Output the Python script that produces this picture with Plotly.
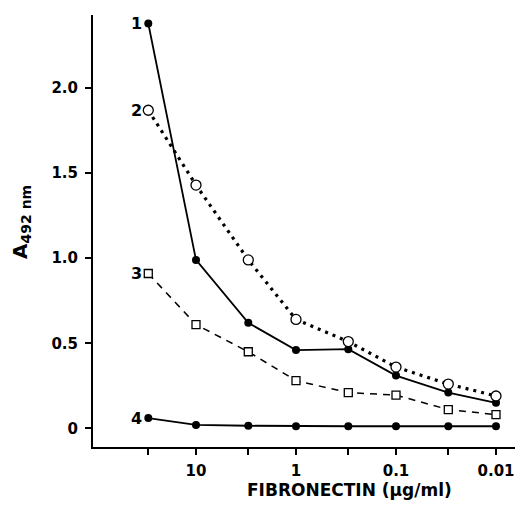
import plotly.graph_objects as go

conc = [30, 10, 3, 1, 0.3, 0.1, 0.03, 0.01]
s1 = [2.38, 0.99, 0.62, 0.46, 0.465, 0.31, 0.21, 0.15]
s2 = [1.87, 1.43, 0.99, 0.64, 0.51, 0.36, 0.26, 0.19]
s3 = [0.91, 0.61, 0.45, 0.28, 0.21, 0.195, 0.11, 0.08]
s4 = [0.06, 0.02, 0.015, 0.012, 0.012, 0.012, 0.012, 0.012]
labels = ["1", "2", "3", "4"]
xtickvals = [30, 10, 3, 1, 0.3, 0.1, 0.03, 0.01]
xticktext = ["", "10", "", "1", "", "0.1", "", "0.01"]
ytickvals = [0, 0.5, 1.0, 1.5, 2.0]
yticktext = ["0", "0.5", "1.0", "1.5", "2.0"]
xtitle = "FIBRONECTIN (µg/ml)"
ytitle = "A<sub>492 nm</sub>"

FONT = "DejaVu Sans"
fig = go.Figure()

fig.add_trace(go.Scatter(x=conc, y=s3, mode="lines+markers",
                         line=dict(color="black", width=1.5, dash="7px,6px"),
                         marker=dict(symbol="square", size=8, color="white",
                                     line=dict(width=1.3, color="black"))))
fig.add_trace(go.Scatter(x=conc, y=s1, mode="lines+markers",
                         line=dict(color="black", width=1.8),
                         marker=dict(symbol="circle", size=8, color="black")))
fig.add_trace(go.Scatter(x=conc, y=s2, mode="lines+markers",
                         line=dict(color="black", width=3.2, dash="3px,5px"),
                         marker=dict(symbol="circle", size=10, color="white",
                                     line=dict(width=1.3, color="black"))))
fig.add_trace(go.Scatter(x=conc, y=s4, mode="lines+markers",
                         line=dict(color="black", width=1.8),
                         marker=dict(symbol="circle", size=8, color="black")))

for lab, ser in zip(labels, [s1, s2, s3, s4]):
    fig.add_annotation(x=1.4771, y=ser[0], xref="x", yref="y",
                       text=lab, showarrow=False, xanchor="right", xshift=-4,
                       font=dict(family=FONT, size=16, color="black", weight="bold"))

# axis titles
fig.add_annotation(x=0.607, y=0, xref="paper", yref="paper", yanchor="middle",
                   xanchor="center", yshift=-43, showarrow=False, text=xtitle,
                   font=dict(family=FONT, size=17, color="black", weight="bold"))
fig.add_annotation(x=0, y=0.521, xref="paper", yref="paper", xanchor="center",
                   yanchor="middle", xshift=-72, textangle=-90, showarrow=False,
                   text=ytitle,
                   font=dict(family=FONT, size=20, color="black", weight="bold"))

fig.update_layout(
    width=520, height=507,
    margin=dict(l=93, r=5, t=15, b=60),
    paper_bgcolor="white", plot_bgcolor="white",
    showlegend=False,
    font=dict(family=FONT, color="black", size=14, weight="bold"),
)
fig.update_xaxes(type="log", range=[2.03, -2.19], showgrid=False, zeroline=False,
                 automargin=False,
                 showline=True, linecolor="black", linewidth=2,
                 ticks="outside", ticklen=6, tickwidth=1.5, tickcolor="black",
                 ticklabelstandoff=3,
                 tickvals=xtickvals, ticktext=xticktext,
                 tickfont=dict(family=FONT, size=15, weight="bold"))
fig.update_yaxes(range=[-0.11, 2.43], showgrid=False, zeroline=False,
                 automargin=False,
                 showline=True, linecolor="black", linewidth=2,
                 ticks="outside", ticklen=6, tickwidth=1.5, tickcolor="black",
                 ticklabelstandoff=4,
                 tickvals=ytickvals, ticktext=yticktext,
                 tickfont=dict(family=FONT, size=15, weight="bold"))

fig.write_html("out.html", config={"displayModeBar": False},
               post_script="document.body.style.margin='0';document.body.style.overflow='hidden';")
